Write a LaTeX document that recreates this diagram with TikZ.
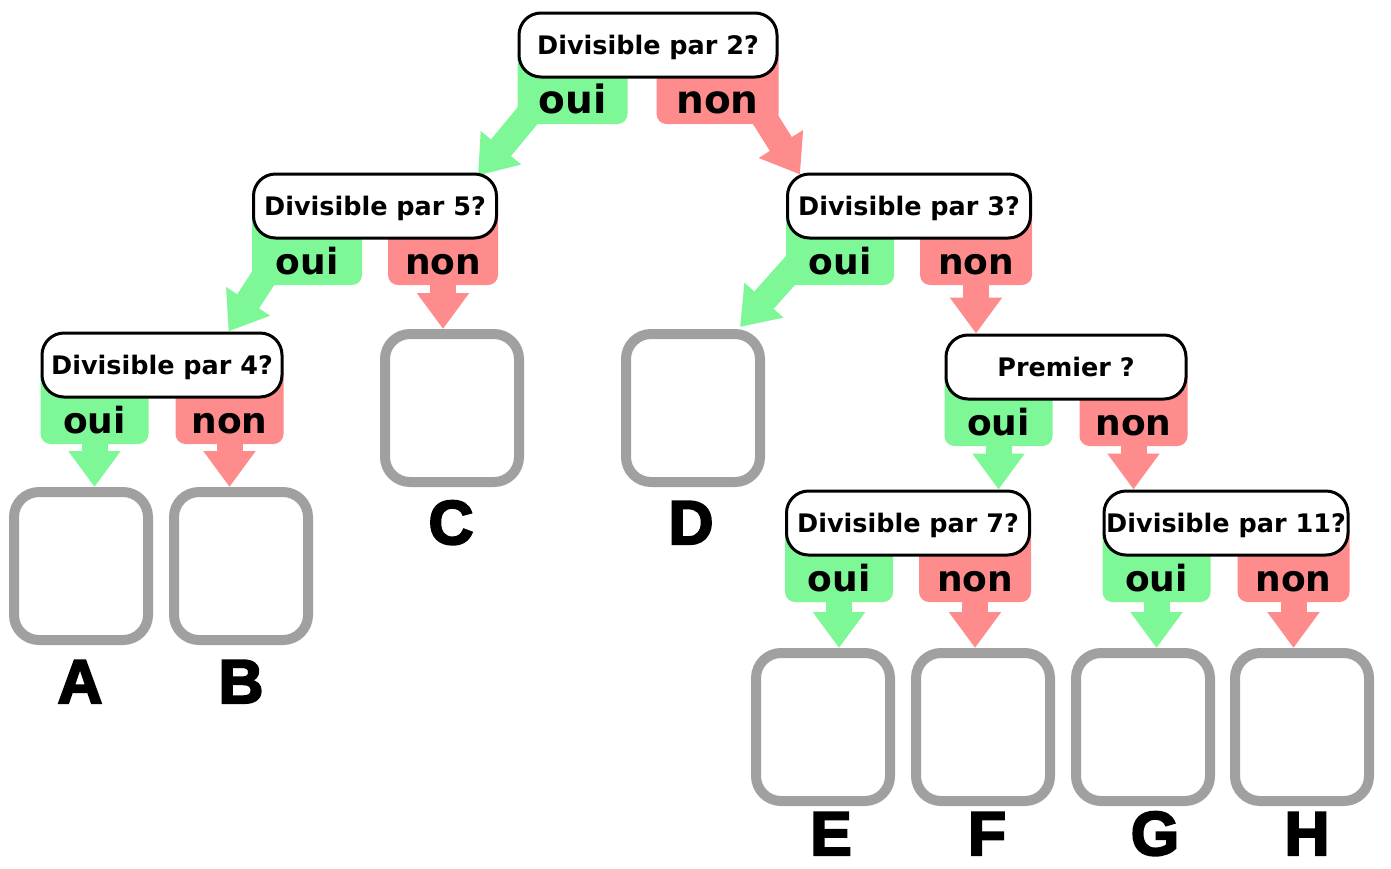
\documentclass[tikz,border=0pt]{standalone}
\usepackage{fontspec}
\setmainfont{DejaVu Sans}
\newfontfamily\heavyfont[FakeBold=3.5]{Liberation Sans Bold}
\usetikzlibrary{arrows.meta}
\definecolor{ouigreen}{RGB}{126,248,150}
\definecolor{nonred}{RGB}{255,140,140}
\definecolor{leafgray}{RGB}{160,160,160}
\pgfdeclarelayer{bg}
\pgfsetlayers{bg,main}
\tikzset{
  qbox/.style={draw=black, line width=3pt, fill=white, rounded corners=22pt,
    minimum height=64pt, inner sep=0pt,
    font=\bfseries\fontsize{25.5}{25.5}\selectfont, text height=18pt, text depth=0pt},
  tabbox/.style={rounded corners=10pt, minimum height=79pt,
    inner sep=0pt, outer sep=0pt},
  ouitab/.style={tabbox, fill=ouigreen, anchor=north west},
  nontab/.style={tabbox, fill=nonred, anchor=north east},
  tabtxt/.style={font=\bfseries\fontsize{36}{36}\selectfont, anchor=base, inner sep=0pt},
  bigtabtxt/.style={tabtxt, font=\bfseries\fontsize{39}{39}\selectfont},
  leaf/.style={draw=leafgray, line width=10pt, rounded corners=25pt, fill=white,
    minimum width=134pt, minimum height=148pt},
  letter/.style={font=\heavyfont\fontsize{62}{62}\selectfont, text height=44pt,
    text depth=0pt, inner sep=0pt},
  ouiarrow/.style={draw=ouigreen, line width=26pt, -{Triangle[width=50pt,length=36pt]}},
  nonarrow/.style={draw=nonred, line width=26pt, -{Triangle[width=50pt,length=36pt]}},
}
% [#1 tab text style] #2 name, #3 x, #4 y, #5 width, #6 text, #7 oui tab width, #8 non tab width
\newcommand\decision[8][tabtxt]{%
  \node[qbox, minimum width=#5] (#2) at (#3,#4) {#6};
  \begin{pgfonlayer}{bg}
    \node[ouitab, minimum width=#7] (#2o) at (#2.west) {};
    \node[nontab, minimum width=#8] (#2n) at (#2.east) {};
  \end{pgfonlayer}
  \node[#1] (#2ot) at ([yshift=11pt]#2o.south) {oui};
  \node[#1] (#2nt) at ([yshift=11pt]#2n.south) {non};
}
\begin{document}
\begin{tikzpicture}[x=1pt,y=-1pt]
\useasboundingbox (0,0) rectangle (1391,868);

% decisions
\decision[bigtabtxt]{q2}{648}{45}{258pt}{Divisible par 2?}{110pt}{122pt}
\decision{q5}{375}{206}{243pt}{Divisible par 5?}{110pt}{110pt}
\decision{q3}{909}{206}{243pt}{Divisible par 3?}{108pt}{112pt}
\decision{q4}{162}{365}{240pt}{Divisible par 4?}{108pt}{108pt}
\decision{qp}{1066}{367}{240pt}{Premier ?}{108pt}{108pt}
\decision{q7}{908}{523}{243pt}{Divisible par 7?}{108pt}{112pt}
\decision{q11}{1226}{523}{244pt}{Divisible par 11?}{108pt}{112pt}

% leaves
\node[leaf] (A) at (81,566) {};
\node[leaf] (B) at (241,566) {};
\node[leaf] (C) at (452,408) {};
\node[leaf] (D) at (693,408) {};
\node[leaf] (E) at (823,727) {};
\node[leaf] (F) at (983,727) {};
\node[leaf] (G) at (1143,727) {};
\node[leaf] (H) at (1302,727) {};

% letters
\node[letter] (lA) at (80,681) {A};
\node[letter] (lB) at (241,681) {B};
\node[letter] (lC) at (451,522) {C};
\node[letter] (lD) at (691,522) {D};
\node[letter] (lE) at (831,833) {E};
\node[letter] (lF) at (987,833) {F};
\node[letter] (lG) at (1155,833) {G};
\node[letter] (lH) at (1307,833) {H};

% connectors
\begin{pgfonlayer}{bg}
  \draw[ouiarrow] ([xshift=23pt,yshift=24pt]q2o.south west) -- ([xshift=-20pt,yshift=-3pt]q5.north east);
  \draw[nonarrow] ([xshift=-19pt,yshift=14pt]q2n.south east) -- ([xshift=14pt,yshift=-2pt]q3.north west);
  \draw[ouiarrow] ([xshift=23pt,yshift=25pt]q5o.south west) -- ([xshift=-55pt]q4.north east);
  \draw[nonarrow] ([yshift=4pt]q5n.south) -- (q5n.south |- C.north);
  \draw[ouiarrow] ([xshift=12pt,yshift=23pt]q3o.south west) -- ([xshift=-25pt,yshift=2pt]D.north east);
  \draw[nonarrow] ([yshift=4pt]q3n.south) -- (q3n.south |- qp.north);
  \draw[ouiarrow] ([yshift=4pt]q4o.south) -- (q4o.south |- A.north);
  \draw[nonarrow] ([yshift=4pt]q4n.south) -- (q4n.south |- B.north);
  \draw[ouiarrow] ([yshift=4pt]qpo.south) -- (qpo.south |- q7.north);
  \draw[nonarrow] ([yshift=4pt]qpn.south) -- (qpn.south |- q11.north);
  \draw[ouiarrow] ([yshift=4pt]q7o.south) -- (q7o.south |- E.north);
  \draw[nonarrow] ([yshift=4pt]q7n.south) -- (q7n.south |- F.north);
  \draw[ouiarrow] ([yshift=4pt]q11o.south) -- (q11o.south |- G.north);
  \draw[nonarrow] ([yshift=4pt]q11n.south) -- (q11n.south |- H.north);
\end{pgfonlayer}
\end{tikzpicture}
\end{document}
